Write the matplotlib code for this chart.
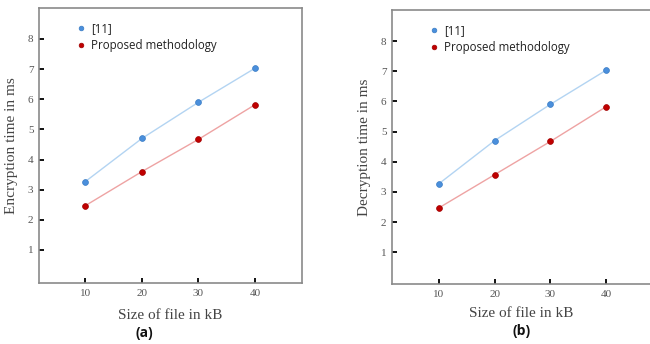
import matplotlib.pyplot as plt

sizes = [10, 20, 30, 40]
enc_ref = [3.27, 4.70, 5.90, 7.03]
enc_prop = [2.47, 3.60, 4.67, 5.82]
dec_ref = [3.27, 4.70, 5.90, 7.03]
dec_prop = [2.47, 3.57, 4.67, 5.82]
yticks = [1, 2, 3, 4, 5, 6, 7, 8]
xticks = [10, 20, 30, 40]

BLUE = "#4a8fdc"
BLUE_LINE = "#b3d4f2"
RED = "#c00000"
RED_LINE = "#eea3a3"

fig = plt.figure(figsize=(6.5, 3.44), dpi=100)


def panel(rect, ref, prop, ylabel, xlim, ylim, caption, cap_pos, xpad, show_right=True):
    ax = fig.add_axes(rect)
    ax.plot(sizes, ref, color=BLUE_LINE, lw=1, zorder=1)
    ax.plot(sizes, prop, color=RED_LINE, lw=1, zorder=1)
    ax.plot(sizes, ref, "o", color=BLUE, ms=4.2, mec="#3a7cc4", mew=0.5, zorder=2, label="[11]")
    ax.plot(sizes, prop, "o", color=RED, ms=4.2, mec="#a00000", mew=0.5, zorder=2,
            label="Proposed methodology")
    ax.set_xlim(*xlim)
    ax.set_ylim(*ylim)
    ax.set_xticks(xticks)
    ax.set_yticks(yticks)
    ax.tick_params(direction="in", length=3.5, width=1.3, color="black",
                   labelsize=8, labelcolor="#555555", pad=4)
    for lab in ax.get_xticklabels() + ax.get_yticklabels():
        lab.set_family("Liberation Serif")
    for name, sp in ax.spines.items():
        sp.set_color("#8a8a8a")
        sp.set_linewidth(1.2)
    if not show_right:
        ax.spines["right"].set_visible(False)
    ax.set_ylabel(ylabel, family="Liberation Serif", fontsize=11, color="#444444", labelpad=7)
    ax.set_xlabel("Size of file in kB", family="Liberation Serif", fontsize=11,
                  color="#444444", labelpad=xpad)
    leg = ax.legend(loc="upper left", bbox_to_anchor=(0.10, 0.985), frameon=False,
                    handletextpad=0.35, handlelength=1.0, labelspacing=0.35,
                    markerscale=0.8, prop={"family": "Open Sans", "size": 8.3})
    for t in leg.get_texts():
        t.set_color("#222222")
    fig.text(cap_pos[0], cap_pos[1], caption, ha="center", va="center",
             fontsize=10, fontweight="bold", family="Open Sans", color="#111111")
    return ax


panel([0.060, 0.177, 0.4046, 0.800], enc_ref, enc_prop, "Encryption time in ms",
      (1.8, 48.3), (-0.1, 9.03), "(a)", (0.2215, 0.032), 8)
panel([0.603, 0.174, 0.397, 0.797], dec_ref, dec_prop, "Decryption time in ms",
      (1.56, 47.9), (-0.06, 9.03), "(b)", (0.803, 0.038), 6, show_right=False)

fig.savefig("out.png", dpi=100, facecolor="white")
